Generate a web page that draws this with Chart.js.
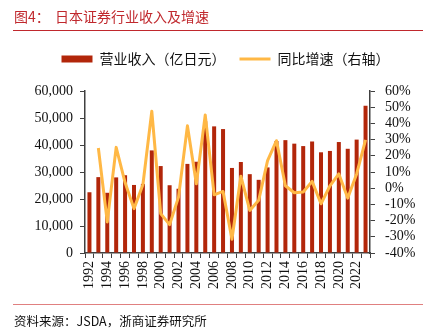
<!DOCTYPE html>
<html>
<head>
<meta charset="utf-8">
<script src="https://cdn.jsdelivr.net/npm/chart.js@4/dist/chart.umd.min.js"></script>
<style>
    body { margin: 0; background: #fff; }
    #wrap { position: relative; width: 429px; height: 332px; overflow: hidden; }
    #revenueChart { position: absolute; left: 0; top: 0; }
    .title { position: absolute; top: 6px; font: 14px "Noto Sans CJK SC"; color: #c0282d; white-space: pre; }
    .rule { position: absolute; left: 13px; width: 410px; height: 1px; }
    .source { position: absolute; left: 14px; top: 311px; font: 12.5px "Noto Sans CJK SC"; color: #111; }
</style>
</head>
<body>
<div id="wrap">
    <canvas id="revenueChart" width="429" height="332"></canvas>
    <div class="title" style="left:14px">图4：</div>
    <div class="title" style="left:55px">日本证券行业收入及增速</div>
    <div class="rule" style="top:30px;background:#c0282d"></div>
    <div class="rule" style="top:304px;background:#e08080"></div>
    <div class="source">资料来源：JSDA，浙商证券研究所</div>
</div>
<script>
// Japanese securities industry: operating revenue (100m yen) and YoY growth (%)
const years = ['1992', '1993', '1994', '1995', '1996', '1997', '1998', '1999', '2000', '2001',
    '2002', '2003', '2004', '2005', '2006', '2007', '2008', '2009', '2010', '2011',
    '2012', '2013', '2014', '2015', '2016', '2017', '2018', '2019', '2020', '2021',
    '2022', '2023'];

const revenue = [22500, 28100, 22300, 28000, 28800, 25200, 25600, 38000, 32200, 25100,
    23800, 33000, 33800, 48800, 46900, 45900, 31500, 33700, 29200, 27100,
    31700, 41500, 41800, 40500, 39600, 41300, 37300, 37800, 41100, 38600,
    42000, 54500];

const growth = [null, 24.8, -20.8, 25.2, 3.5, -12.6, 2.1, 47.5, -15.7, -22.5,
    -5.5, 38.5, 2.7, 45.2, -4.1, -2.0, -31.5, 7.4, -13.7, -7.5,
    17.0, 29.3, 1.5, -2.8, -2.3, 4.2, -9.6, 1.4, 8.8, -6.1,
    8.8, 29.9];

const leftTicks = [0, 10000, 20000, 30000, 40000, 50000, 60000];
const rightTicks = [-40, -30, -20, -10, 0, 10, 20, 30, 40, 50, 60];

const axisColor = '#404040';
const serif = 'Liberation Serif';

// leave some room between the legend row and the plot
const legendGap = {
    id: 'legendGap',
    beforeLayout(chart) {
        const legend = chart.legend;
        if (!legend || legend._gapPatched) return;
        const fit = legend.fit;
        legend.fit = function () {
            fit.call(this);
            this.height += 15;
        };
        legend._gapPatched = true;
    }
};

const ctx = document.getElementById('revenueChart').getContext('2d');

new Chart(ctx, {
    type: 'bar',
    data: {
        labels: years,
        datasets: [{
            type: 'bar',
            label: '营业收入（亿日元）',
            data: revenue,
            backgroundColor: '#b2260a',
            borderWidth: 0,
            barPercentage: 0.45,
            categoryPercentage: 1,
            yAxisID: 'y',
            pointStyle: 'rect',
            order: 2
        }, {
            type: 'line',
            label: '同比增速（右轴）',
            data: growth,
            borderColor: '#ffb845',
            borderWidth: 3,
            borderJoinStyle: 'round',
            tension: 0,
            pointRadius: 0,
            pointStyle: 'line',
            pointBorderColor: '#ffb845',
            pointBorderWidth: 3,
            yAxisID: 'y1',
            order: 1
        }]
    },
    plugins: [legendGap],
    options: {
        responsive: false,
        animation: false,
        layout: {
            padding: { left: 22, right: 0, top: 38, bottom: 40 }
        },
        plugins: {
            tooltip: { enabled: false },
            legend: {
                position: 'top',
                labels: {
                    usePointStyle: true,
                    pointStyleWidth: 31,
                    boxHeight: 7,
                    padding: 14,
                    color: '#111',
                    font: { family: 'Noto Sans CJK SC', size: 14 },
                    sort: (a, b) => a.datasetIndex - b.datasetIndex
                }
            }
        },
        scales: {
            x: {
                offset: true,
                afterFit: (scale) => { scale.height = 39; },
                border: { color: axisColor, width: 1.5 },
                grid: {
                    offset: true,
                    drawOnChartArea: false,
                    drawTicks: true,
                    tickLength: 5,
                    color: axisColor
                },
                ticks: {
                    autoSkip: false,
                    minRotation: 90,
                    maxRotation: 90,
                    padding: 3,
                    color: '#111',
                    font: { family: serif, size: 14 },
                    callback: function (value, index) {
                        return index % 2 === 0 ? this.getLabelForValue(value) : '';
                    }
                }
            },
            y: {
                position: 'left',
                min: 0,
                max: 60000,
                afterFit: (scale) => { scale.width = 63; },
                afterBuildTicks: (scale) => { scale.ticks = leftTicks.map(v => ({ value: v })); },
                border: { color: axisColor, width: 1.5 },
                grid: { drawOnChartArea: false, tickLength: 5, color: axisColor },
                ticks: {
                    autoSkip: false,
                    padding: 7,
                    color: '#111',
                    font: { family: serif, size: 14 },
                    callback: (v) => v.toLocaleString('en-US')
                }
            },
            y1: {
                position: 'right',
                min: -40,
                max: 60,
                afterFit: (scale) => { scale.width = 59; },
                afterBuildTicks: (scale) => { scale.ticks = rightTicks.map(v => ({ value: v })); },
                border: { color: axisColor, width: 1.5 },
                grid: { drawOnChartArea: false, tickLength: 5, color: axisColor },
                ticks: {
                    autoSkip: false,
                    padding: 10,
                    color: '#111',
                    font: { family: serif, size: 14 },
                    callback: (v) => v + '%'
                }
            }
        }
    }
});
</script>
</body>
</html>
